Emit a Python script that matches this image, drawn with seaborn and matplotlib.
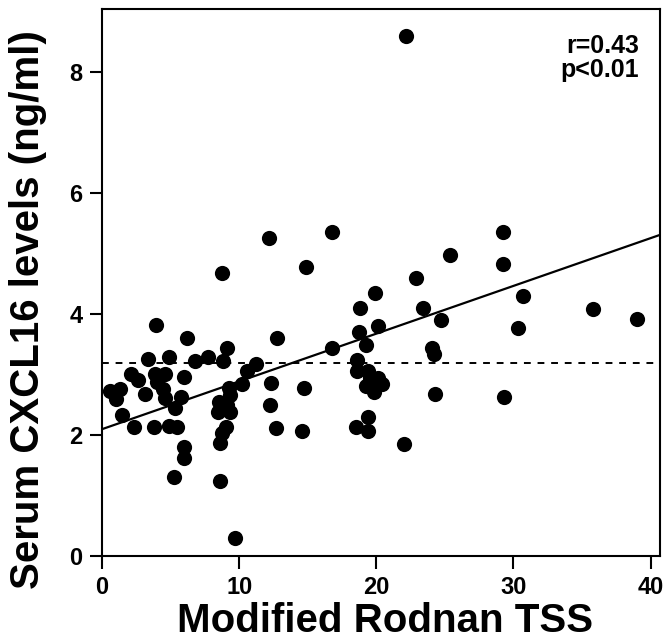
import numpy as np
import pandas as pd
import seaborn as sns
from matplotlib import pyplot as plt

# === DATA
tss = [3.94, 6.20, 3.36, 4.89, 6.79, 7.74, 2.12, 2.63, 3.87, 4.60,
       4.01, 5.99, 0.58, 1.31, 1.02, 3.14, 4.45, 4.60, 5.77, 5.33,
       1.46, 2.34, 3.80, 4.89, 5.47, 5.99, 5.99, 5.26,
       9.12, 8.83, 11.24, 10.58, 10.22, 9.27, 9.34, 8.54, 8.47, 9.12,
       9.34, 9.05, 8.76, 8.61, 8.61, 9.71, 12.19, 8.76, 12.77, 12.34,
       12.26, 12.70,
       14.89, 16.79, 14.74, 14.60, 16.79,
       18.83, 19.93, 20.15, 18.76, 19.27, 18.61, 18.61, 19.42, 19.56, 20.15,
       20.44, 19.27, 19.85, 19.42, 18.54, 19.42,
       22.92, 22.04, 23.43, 24.74, 25.40, 24.09, 24.23, 24.31,
       29.27, 29.27, 30.66, 30.36, 29.34, 35.77, 38.98, 22.19]
cxcl16 = [3.82, 3.60, 3.26, 3.29, 3.22, 3.29, 3.01, 2.91, 3.02, 3.01,
          2.88, 2.96, 2.73, 2.76, 2.60, 2.68, 2.76, 2.61, 2.64, 2.45,
          2.33, 2.13, 2.13, 2.15, 2.13, 1.80, 1.62, 1.31,
          3.45, 3.22, 3.17, 3.07, 2.84, 2.78, 2.66, 2.55, 2.38, 2.50,
          2.38, 2.13, 2.03, 1.87, 1.24, 0.30, 5.26, 4.68, 3.60, 2.86,
          2.50, 2.12,
          4.78, 5.36, 2.78, 2.07, 3.45,
          4.10, 4.35, 3.80, 3.70, 3.50, 3.24, 3.07, 3.07, 2.94, 2.94,
          2.84, 2.81, 2.71, 2.30, 2.13, 2.07,
          4.60, 1.85, 4.10, 3.90, 4.98, 3.44, 3.34, 2.69,
          5.36, 4.84, 4.31, 3.77, 2.63, 4.08, 3.92, 8.61]
# regression line as drawn in the paper
fit_intercept = 2.1
fit_slope = 0.079
cutoff = 3.2
stats_text = 'r=0.43\np<0.01'

df = pd.DataFrame({'tss': tss, 'cxcl16': cxcl16})

# === PLOT
sns.set_style('ticks')
plt.rcParams['font.family'] = ['Liberation Sans', 'DejaVu Sans']
plt.rcParams['font.weight'] = 'bold'
plt.rcParams['text.color'] = 'black'
plt.rcParams['axes.labelcolor'] = 'black'

fig = plt.figure(figsize=(6.71, 6.40), dpi=100)
ax = fig.add_axes([0.152, 0.131, 0.832, 0.855])

# Scatter
sns.scatterplot(x='tss', y='cxcl16', data=df, s=120, color='black',
                linewidth=0, ax=ax)

ax.set_xlim(0, 40.7)
ax.set_ylim(0, 9.05)

# Regression line across the whole axis
line_x = np.array(ax.get_xlim())
fit = pd.DataFrame({'x': line_x, 'y': fit_intercept + fit_slope * line_x})
sns.lineplot(x='x', y='y', data=fit, color='black', lw=1.6, ax=ax)

# Dashed cutoff line
ax.axhline(cutoff, color='black', lw=1.4, ls=(0, (3.5, 3.5)))

# Stats annotation
ax.text(0.962, 0.955, stats_text, transform=ax.transAxes, ha='right',
        va='top', fontsize=18, fontweight='bold', linespacing=1.0,
        color='black')

# Improve figure
ax.set_xticks([0, 10, 20, 30, 40])
ax.set_yticks([0, 2, 4, 6, 8])
ax.tick_params(direction='out', length=9, width=1.5, labelsize=17,
               pad=5, colors='black')
for lbl in ax.get_xticklabels() + ax.get_yticklabels():
    lbl.set_fontweight('bold')
for sp in ax.spines.values():
    sp.set_visible(True)
    sp.set_linewidth(1.5)
    sp.set_color('black')

ax.set_xlabel('Modified Rodnan TSS', fontsize=29, fontweight='bold')
ax.set_ylabel('Serum CXCL16 levels (ng/ml)', fontsize=29,
              fontweight='bold')
ax.xaxis.set_label_coords(0.507, -0.083)
ax.yaxis.set_label_coords(-0.098, 0.45)

# Save plot
plt.savefig('out.png', dpi=100)
